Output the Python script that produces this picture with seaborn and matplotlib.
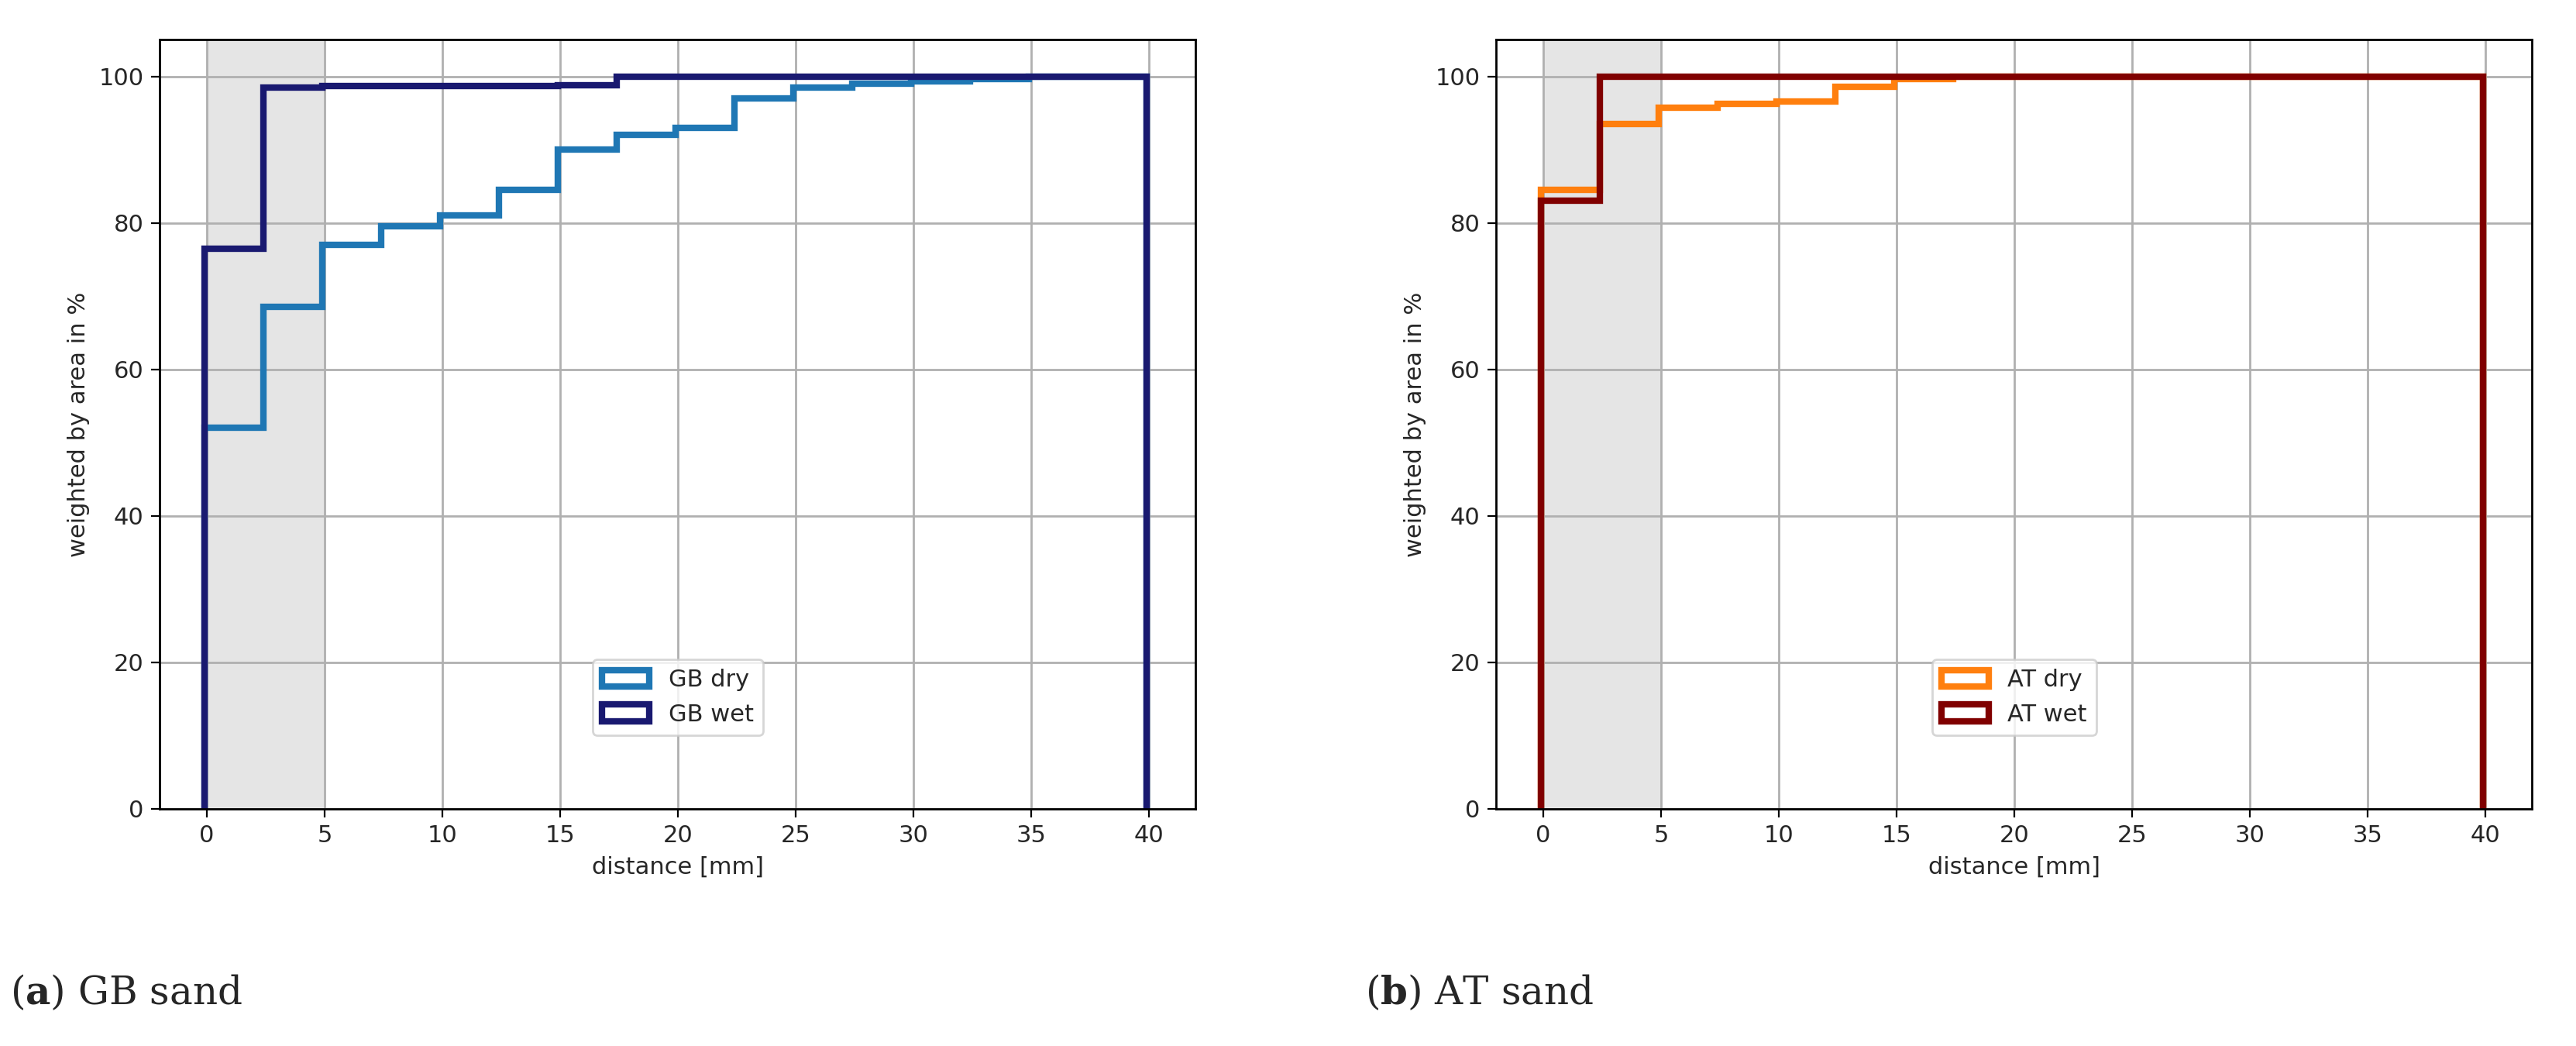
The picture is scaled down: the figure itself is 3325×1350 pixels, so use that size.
import numpy as np
import matplotlib.pyplot as plt
import seaborn as sns

# bin edges (2.5 mm bins) and cumulative percentages
edges = np.arange(-0.1, 40.0, 2.5)
centers = edges[:-1] + 1.25

gb_dry = [52, 68.5, 77, 79.5, 81, 84.5, 90, 92, 93, 97, 98.5, 99, 99.3, 99.6, 100, 100]
gb_wet = [76.5, 98.5, 98.7, 98.7, 98.7, 98.7, 98.8, 100, 100, 100, 100, 100, 100, 100, 100, 100]
at_dry = [84.5, 93.5, 95.7, 96.2, 96.6, 98.6, 99.6, 100, 100, 100, 100, 100, 100, 100, 100, 100]
at_wet = [83, 100, 100, 100, 100, 100, 100, 100, 100, 100, 100, 100, 100, 100, 100, 100]

sns.set_style("whitegrid")
plt.rcParams['font.family'] = ['DejaVu Sans']
plt.rcParams['mathtext.fontset'] = 'dejavuserif'

fig, axes = plt.subplots(1, 2, figsize=(16.625, 6.75), dpi=200)
fig.subplots_adjust(left=0.062, right=0.983, top=0.962, bottom=0.227, wspace=0.29)

panels = [
    (axes[0], [("GB dry", gb_dry, "#1f77b4"), ("GB wet", gb_wet, "#191970")], "a", "GB sand", 0.004),
    (axes[1], [("AT dry", at_dry, "#ff7f0e"), ("AT wet", at_wet, "#800000")], "b", "AT sand", 0.53),
]

for ax, series, tag, name, cx in panels:
    ax.axvspan(0, 5, color="#e5e5e5", zorder=0)
    for label, cum, col in series:
        w = np.diff(np.concatenate([[0], cum]))
        ax.hist(centers, bins=edges, weights=w, cumulative=True, histtype="step",
                color=col, linewidth=3, label=label)
    ax.set_xlim(-2, 42)
    ax.set_ylim(0, 105)
    ax.set_xticks(range(0, 41, 5))
    ax.set_yticks(range(0, 101, 20))
    ax.grid(True, color="#b0b0b0", linewidth=1)
    for s in ax.spines.values():
        s.set_color("black")
        s.set_linewidth(1)
    ax.tick_params(axis="both", labelsize=11, length=4, color="black", left=True, bottom=True)
    ax.set_xlabel("distance [mm]", fontsize=11)
    ax.set_ylabel("weighted by area in %", fontsize=11)
    ax.legend(loc="lower center", fontsize=11, bbox_to_anchor=(0.5, 0.08), framealpha=0.8)
    fig.text(cx, 0.04, "($\\mathbf{" + tag + "}$) " + name, fontsize=18, family="DejaVu Serif")

fig.savefig("out.png")
